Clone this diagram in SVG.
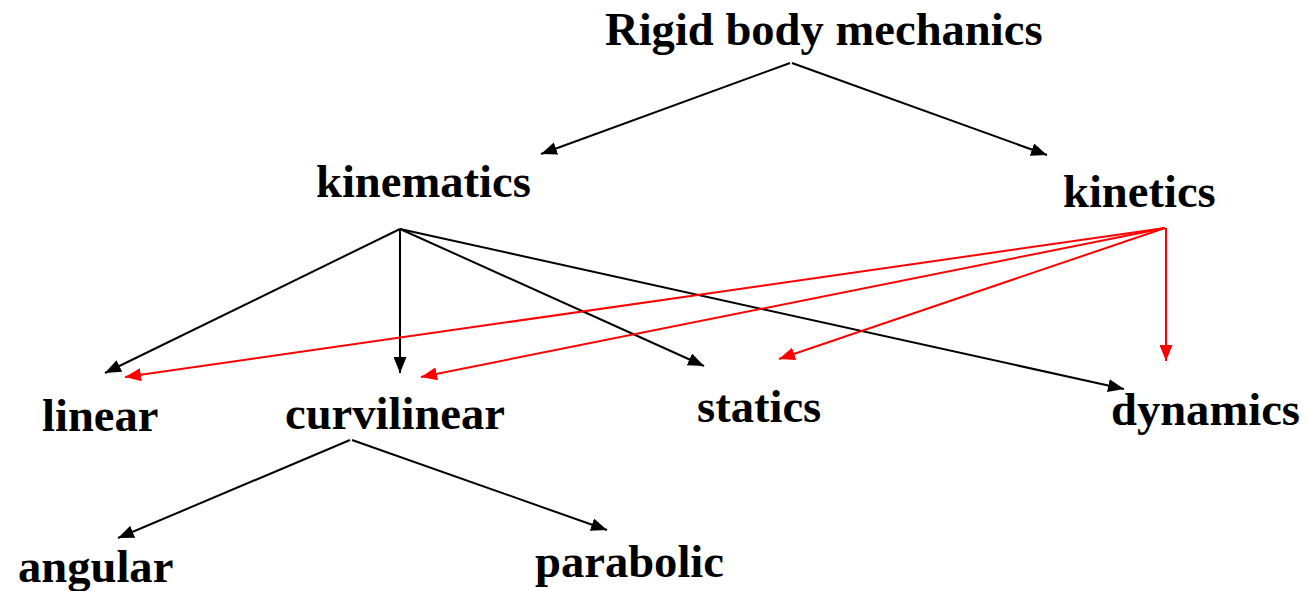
<svg xmlns="http://www.w3.org/2000/svg" width="1307" height="591" viewBox="0 0 1307 591">
<style>
text{font-family:"Liberation Serif","Times New Roman",serif;font-weight:bold;font-size:46.6px;fill:#000}
.k{stroke:#000;stroke-width:2;fill:none}
.r{stroke:#ff0000;stroke-width:2;fill:none}
</style>
<defs>
<marker id="ak" markerUnits="userSpaceOnUse" markerWidth="17" markerHeight="13" refX="16" refY="6.5" orient="auto"><path d="M0,0 L16,6.5 L0,13 z" fill="#000"/></marker>
<marker id="ar" markerUnits="userSpaceOnUse" markerWidth="17" markerHeight="13" refX="16" refY="6.5" orient="auto"><path d="M0,0 L16,6.5 L0,13 z" fill="#ff0000"/></marker>
</defs>
<rect width="1307" height="591" fill="#fff"/>
<g id="connectors">
<line class="k" x1="790" y1="63" x2="541" y2="154" marker-end="url(#ak)"/>
<line class="k" x1="792" y1="63" x2="1047" y2="155" marker-end="url(#ak)"/>
<line class="k" x1="400" y1="229" x2="105" y2="373" marker-end="url(#ak)"/>
<line class="k" x1="400" y1="229" x2="400" y2="373" marker-end="url(#ak)"/>
<line class="k" x1="400" y1="229" x2="704" y2="366" marker-end="url(#ak)"/>
<line class="k" x1="400" y1="229" x2="1124" y2="389" marker-end="url(#ak)"/>
<line class="r" x1="1165" y1="228" x2="125" y2="377" marker-end="url(#ar)"/>
<line class="r" x1="1165" y1="228" x2="421" y2="377" marker-end="url(#ar)"/>
<line class="r" x1="1165" y1="228" x2="779" y2="359" marker-end="url(#ar)"/>
<line class="r" x1="1166" y1="228" x2="1166" y2="361" marker-end="url(#ar)"/>
<line class="k" x1="350" y1="440" x2="118" y2="538" marker-end="url(#ak)"/>
<line class="k" x1="352" y1="440" x2="607" y2="530" marker-end="url(#ak)"/>
</g>
<g id="rigid"><text x="605" y="45">Rigid body mechanics</text></g>
<g id="kinematics"><text x="316" y="197">kinematics</text></g>
<g id="kinetics"><text x="1063" y="207">kinetics</text></g>
<g id="linear"><text x="42" y="431">linear</text></g>
<g id="curvilinear"><text x="285" y="429">curvilinear</text></g>
<g id="statics"><text x="697" y="422">statics</text></g>
<g id="dynamics"><text x="1111" y="425">dynamics</text></g>
<g id="angular"><text x="18" y="582">angular</text></g>
<g id="parabolic"><text x="535" y="577">parabolic</text></g>
</svg>
